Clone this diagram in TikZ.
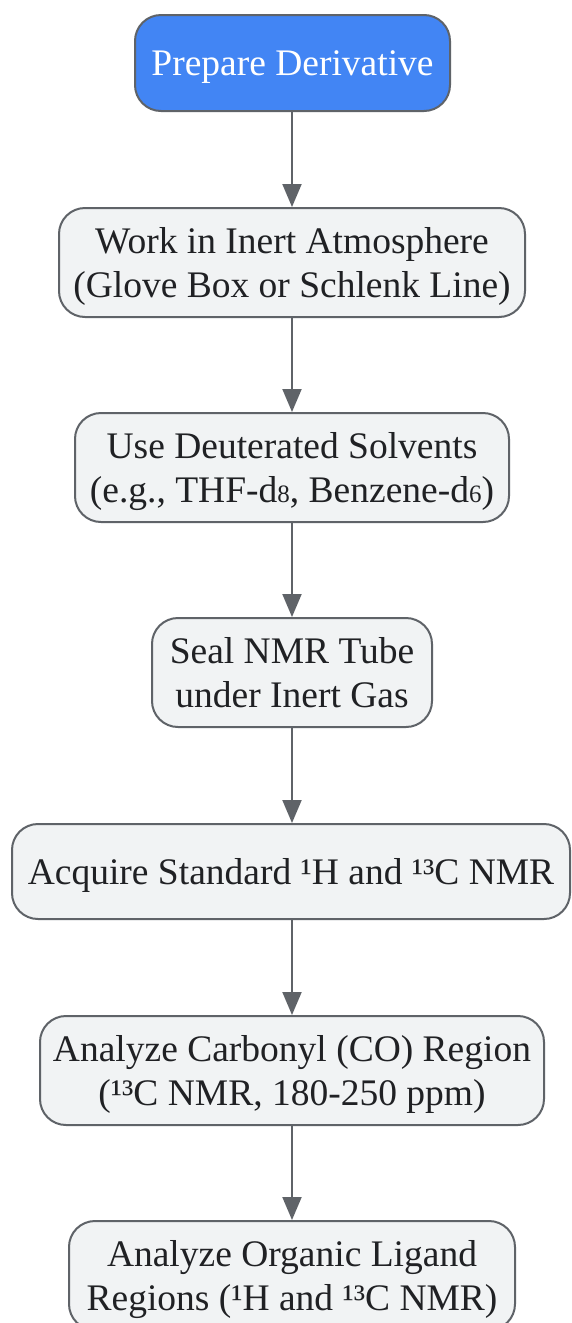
\documentclass[tikz,border=0pt]{standalone}
\usepackage{fontspec}
\setmainfont{Liberation Serif}
\usetikzlibrary{arrows.meta}
\definecolor{bluefill}{HTML}{4285F4}
\definecolor{boxfill}{HTML}{F1F3F4}
\definecolor{edge}{HTML}{5F6368}
\definecolor{txt}{HTML}{202124}
\newcommand{\smalldig}[1]{{\fontsize{25}{25}\selectfont #1}}
\newcommand{\ls}{\rule[-9.5pt]{0pt}{44pt}}
\tikzset{
  stepbox/.style={draw=edge, line width=2pt, fill=boxfill, rounded corners=26pt,
    align=center, text=txt, font=\fontsize{37.5}{44}\selectfont, inner sep=0pt},
  startbox/.style={stepbox, fill=bluefill, text=white},
  conn/.style={draw=edge, line width=2pt, -{Triangle[width=19pt,length=23pt]}}
}
\begin{document}
\begin{tikzpicture}[x=1pt,y=-1pt]
\clip (0,0) rectangle (571,1323);
\fill[white] (0,0) rectangle (571,1323);
\node[startbox, minimum width=315pt, minimum height=96pt] (n1) at (292.5,63) {\ls Prepare Derivative\ls};
\node[stepbox, minimum width=466pt, minimum height=109pt] (n2) at (292,262.5) {\ls Work in Inert Atmosphere\\(Glove Box or Schlenk Line)\ls};
\node[stepbox, minimum width=434pt, minimum height=109pt] (n3) at (292,467.5) {\ls Use Deuterated Solvents\\(e.g., THF-d\smalldig{8}, Benzene-d\smalldig{6})\ls};
\node[stepbox, minimum width=280pt, minimum height=109pt] (n4) at (292,672.5) {\ls Seal NMR Tube\\under Inert Gas\ls};
\node[stepbox, minimum width=558pt, minimum height=95pt] (n5) at (291,871.5) {\ls Acquire Standard ¹H and ¹³C NMR\ls};
\node[stepbox, minimum width=504pt, minimum height=109pt] (n6) at (292,1070.5) {\ls Analyze Carbonyl (CO) Region\\(¹³C NMR, 180-250 ppm)\ls};
\node[stepbox, minimum width=446pt, minimum height=109pt] (n7) at (292,1275.5) {\ls Analyze Organic Ligand\\Regions (¹H and ¹³C NMR)\ls};
\draw[conn] (n2.north |- n1.south) -- (n2.north);
\draw[conn] (n2.south) -- (n3.north);
\draw[conn] (n3.south) -- (n4.north);
\draw[conn] (n4.south) -- (n4.south |- n5.north);
\draw[conn] (n6.north |- n5.south) -- (n6.north);
\draw[conn] (n6.south) -- (n7.north);
\end{tikzpicture}
\end{document}
